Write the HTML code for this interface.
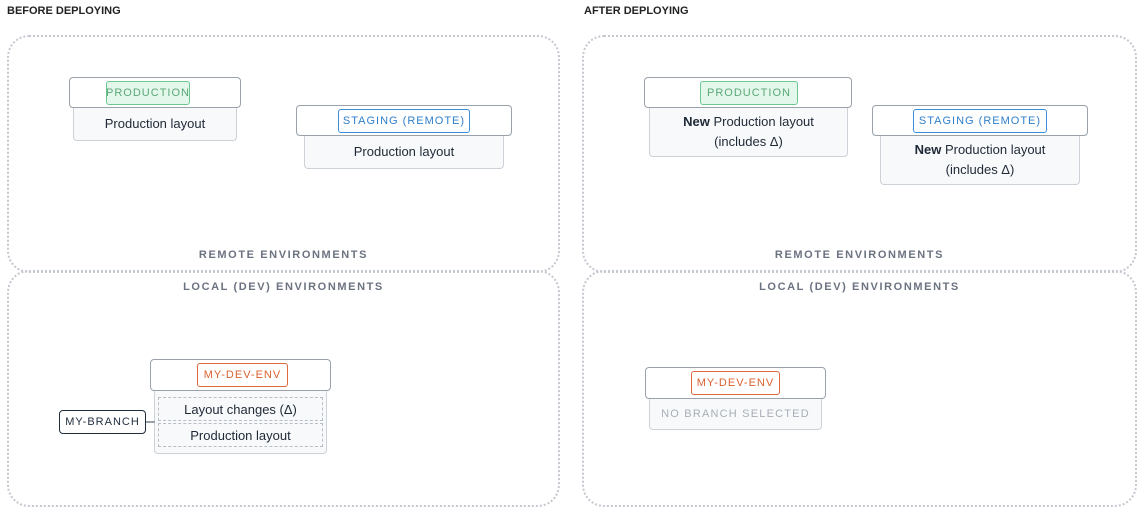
<!DOCTYPE html>
<html><head><meta charset="utf-8"><style>
body{margin:0;width:1141px;height:517px;background:#fff;position:relative;font-family:"Liberation Sans",sans-serif;overflow:hidden}
.a{position:absolute;box-sizing:border-box}
.t{font-size:11px;font-weight:bold;color:#222}
.pan{border:2px dotted #c4c8cf;border-radius:22px}
.lbl{font-size:11px;letter-spacing:1.6px;color:#6b7280;text-align:center;font-weight:bold}
.hd{border:1.5px solid #9aa1ab;border-radius:4px;background:#fff}
.bd{border:1.5px solid #cdd2d8;border-top:none;border-radius:0 0 4px 4px;background:#f7f9fa;text-align:center;font-size:13px;color:#1f2937;display:flex;align-items:center;justify-content:center;flex-direction:column;line-height:20px}
.tag{border:1.5px solid;border-radius:3px;font-size:11px;letter-spacing:1px;white-space:nowrap;display:flex;align-items:center;justify-content:center}
.g{border-color:#6cc792;background:#e4f7eb;color:#5aa878}
.bl{border-color:#3b8fd9;background:#fff;color:#2f7fcb}
.o{border-color:#e0693c;background:#fff;color:#d9622f}
.dot{border:1px dashed #b8bec6;font-size:13px;color:#1f2937;display:flex;align-items:center;justify-content:center}
</style></head><body>
<div class="a t" style="left:7px;top:5px">BEFORE DEPLOYING</div>
<div class="a t" style="left:584px;top:5px">AFTER DEPLOYING</div>

<div class="a pan" style="left:7px;top:35px;width:553px;height:238px"></div>
<div class="a pan" style="left:7px;top:270px;width:553px;height:237px"></div>
<div class="a pan" style="left:582px;top:35px;width:555px;height:238px"></div>
<div class="a pan" style="left:582px;top:270px;width:555px;height:237px"></div>

<div class="a lbl" style="left:7px;top:249px;width:553px">REMOTE ENVIRONMENTS</div>
<div class="a lbl" style="left:7px;top:281px;width:553px">LOCAL (DEV) ENVIRONMENTS</div>
<div class="a lbl" style="left:582px;top:249px;width:555px">REMOTE ENVIRONMENTS</div>
<div class="a lbl" style="left:582px;top:281px;width:555px">LOCAL (DEV) ENVIRONMENTS</div>

<div class="a bd" style="left:73px;top:107px;width:164px;height:34px">Production layout</div>
<div class="a hd" style="left:69px;top:77px;width:172px;height:31px"></div>
<div class="a tag g" style="left:106px;top:81px;width:84px;height:24px">PRODUCTION</div>

<div class="a bd" style="left:304px;top:135px;width:200px;height:34px">Production layout</div>
<div class="a hd" style="left:296px;top:105px;width:216px;height:31px"></div>
<div class="a tag bl" style="left:338px;top:109px;width:132px;height:24px">STAGING (REMOTE)</div>

<div class="a bd" style="left:154px;top:390px;width:173px;height:64px"></div>
<div class="a dot" style="left:158px;top:397px;width:165px;height:24px">Layout changes (Δ)</div>
<div class="a dot" style="left:158px;top:423px;width:165px;height:24px">Production layout</div>
<div class="a hd" style="left:150px;top:359px;width:181px;height:32px"></div>
<div class="a tag o" style="left:197px;top:363px;width:91px;height:24px">MY-DEV-ENV</div>
<div class="a" style="left:145px;top:421px;width:10px;height:1.5px;background:#9aa1ab"></div>
<div class="a tag" style="left:59px;top:410px;width:87px;height:24px;border-color:#1f2d3d;color:#1f2d3d;border-radius:4px">MY-BRANCH</div>

<div class="a bd" style="left:649px;top:107px;width:199px;height:50px"><div><b>New</b> Production layout</div><div>(includes Δ)</div></div>
<div class="a hd" style="left:644px;top:77px;width:208px;height:31px"></div>
<div class="a tag g" style="left:700px;top:81px;width:98px;height:24px">PRODUCTION</div>

<div class="a bd" style="left:880px;top:135px;width:200px;height:50px"><div><b>New</b> Production layout</div><div>(includes Δ)</div></div>
<div class="a hd" style="left:872px;top:105px;width:216px;height:31px"></div>
<div class="a tag bl" style="left:913px;top:109px;width:134px;height:24px">STAGING (REMOTE)</div>

<div class="a bd" style="left:649px;top:398px;width:173px;height:32px;font-size:11px;letter-spacing:1.2px;color:#a8aeb6">NO BRANCH SELECTED</div>
<div class="a hd" style="left:645px;top:367px;width:181px;height:32px"></div>
<div class="a tag o" style="left:691px;top:371px;width:89px;height:24px">MY-DEV-ENV</div>
</body></html>
